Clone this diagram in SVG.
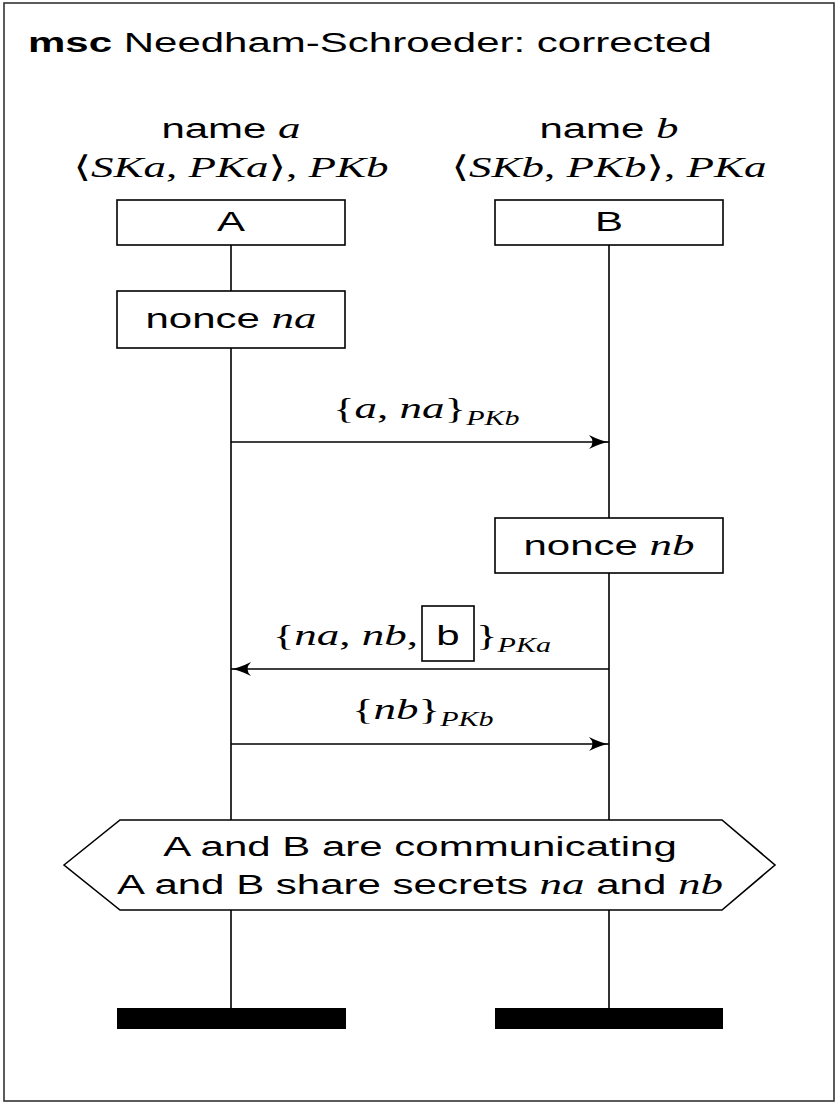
<svg xmlns="http://www.w3.org/2000/svg" width="838" height="1103" viewBox="0 0 838 1103">
  <defs>
    <marker id="arrow" markerUnits="userSpaceOnUse" markerWidth="22" markerHeight="16" refX="20" refY="8" orient="auto">
      <path d="M0,1 Q12,7 20,8 Q12,9 0,15 Q7,8 0,1 Z" fill="#000"/>
    </marker>
  </defs>
  <style>
    .frame { fill: #fff; stroke: #333; stroke-width: 1.6; }
    .box { fill: #fff; stroke: #000; stroke-width: 1.6; }
    .life { stroke: #000; stroke-width: 1.6; fill: none; }
    .msg { stroke: #000; stroke-width: 1.6; fill: none; marker-end: url(#arrow); }
    .sans { font-family: "Liberation Sans", "DejaVu Sans", sans-serif; font-size: 28px; fill: #000; }
    .math { font-family: "Liberation Serif", "DejaVu Serif", serif; font-size: 30px; fill: #000; }
    .it { font-style: italic; }
    .sub { font-family: "Liberation Serif", "DejaVu Serif", serif; font-style: italic; font-size: 20px; }
    .wide { transform: scale(1.5, 1); }
    .end { fill: #000; }
  </style>

  <!-- chart frame and title -->
  <rect class="frame" x="4" y="3" width="830" height="1098"/>
  <g transform="translate(28,52)">
    <text class="sans wide"><tspan font-weight="bold">msc</tspan> Needham-Schroeder: corrected</text>
  </g>

  <!-- lifelines and messages -->
  <g id="connectors">
    <path class="life" d="M231,245 V291 M231,348 V820 M231,910 V1008"/>
    <path class="life" d="M609,245 V518 M609,573 V820 M609,910 V1008"/>
    <line class="msg" x1="231" y1="442" x2="609" y2="442"/>
    <line class="msg" x1="609" y1="669" x2="231" y2="669"/>
    <line class="msg" x1="231" y1="744" x2="609" y2="744"/>
  </g>

  <!-- instance A -->
  <g id="instA">
    <g transform="translate(231,138)">
      <text class="sans wide" text-anchor="middle">name <tspan class="math it">a</tspan></text>
    </g>
    <g transform="translate(231,177)">
      <text class="math wide" text-anchor="middle">⟨<tspan class="it">SKa</tspan>, <tspan class="it">PKa</tspan>⟩, <tspan class="it">PKb</tspan></text>
    </g>
    <rect class="box" x="117" y="200" width="228" height="45"/>
    <g transform="translate(231,231)">
      <text class="sans wide" text-anchor="middle">A</text>
    </g>
  </g>

  <!-- instance B -->
  <g id="instB">
    <g transform="translate(609,138)">
      <text class="sans wide" text-anchor="middle">name <tspan class="math it">b</tspan></text>
    </g>
    <g transform="translate(609,177)">
      <text class="math wide" text-anchor="middle">⟨<tspan class="it">SKb</tspan>, <tspan class="it">PKb</tspan>⟩, <tspan class="it">PKa</tspan></text>
    </g>
    <rect class="box" x="495" y="200" width="228" height="45"/>
    <g transform="translate(609,231)">
      <text class="sans wide" text-anchor="middle">B</text>
    </g>
  </g>

  <!-- actions -->
  <g id="nonceA">
    <rect class="box" x="117" y="291" width="228" height="57"/>
    <g transform="translate(231,328)">
      <text class="sans wide" text-anchor="middle">nonce <tspan class="math it">na</tspan></text>
    </g>
  </g>
  <g id="nonceB">
    <rect class="box" x="495" y="518" width="228" height="55"/>
    <g transform="translate(609,555)">
      <text class="sans wide" text-anchor="middle">nonce <tspan class="math it">nb</tspan></text>
    </g>
  </g>

  <!-- message labels -->
  <g id="msg1" transform="translate(333,418)">
    <text class="math wide">{<tspan class="it">a</tspan>, <tspan class="it">na</tspan>}<tspan class="sub" dy="7">PKb</tspan></text>
  </g>
  <g id="msg2">
    <g transform="translate(418,645)">
      <text class="math wide" text-anchor="end">{<tspan class="it">na</tspan>, <tspan class="it">nb</tspan>,</text>
    </g>
    <rect class="box" x="422" y="606" width="52" height="55"/>
    <g transform="translate(448,645)">
      <text class="sans wide" text-anchor="middle">b</text>
    </g>
    <g transform="translate(476,645)">
      <text class="math wide">}<tspan class="sub" dy="7">PKa</tspan></text>
    </g>
  </g>
  <g id="msg3" transform="translate(352,719)">
    <text class="math wide">{<tspan class="it">nb</tspan>}<tspan class="sub" dy="7">PKb</tspan></text>
  </g>

  <!-- condition -->
  <g id="condition">
    <polygon class="box" points="64,865 120,820 722,820 775,865 722,910 120,910"/>
    <g transform="translate(420,856)">
      <text class="sans wide" text-anchor="middle">A and B are communicating</text>
    </g>
    <g transform="translate(420,894)">
      <text class="sans wide" text-anchor="middle">A and B share secrets <tspan class="math it">na</tspan> and <tspan class="math it">nb</tspan></text>
    </g>
  </g>

  <!-- instance ends -->
  <g id="endA"><rect class="end" x="117" y="1008" width="229" height="21"/></g>
  <g id="endB"><rect class="end" x="495" y="1008" width="228" height="21"/></g>
</svg>
